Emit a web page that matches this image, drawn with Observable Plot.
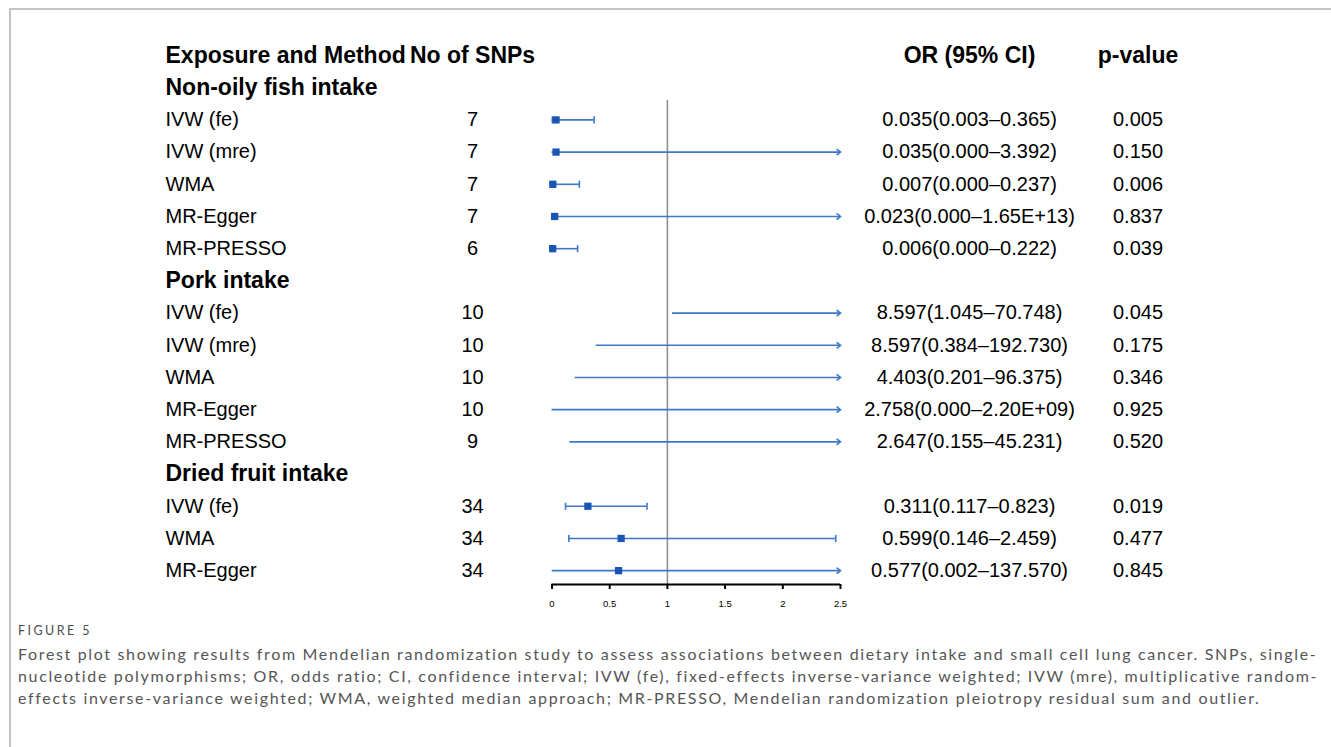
<!DOCTYPE html>
<html>
<head>
<meta charset="utf-8">
<script src="https://cdn.jsdelivr.net/npm/d3@7"></script>
<script src="https://cdn.jsdelivr.net/npm/@observablehq/plot@0.6"></script>
<style>
  html, body { margin: 0; padding: 0; background: #fff; width: 1331px; height: 747px; overflow: hidden; }
  #frame { position: absolute; left: 9px; top: 8px; right: 0; bottom: 0; border-top: 2px solid #c4c4c4; border-left: 2px solid #c4c4c4; }
  #chart { position: absolute; left: 0; top: 0; }
  #fig { position: absolute; left: 18px; top: 623px; font-family: Lato, "Open Sans", sans-serif; font-size: 12.5px; color: #4d4d4d; white-space: nowrap; }
  #cap { position: absolute; left: 18px; top: 643px; font-family: Lato, "Open Sans", sans-serif; font-size: 16px; line-height: 22px; color: #555; white-space: nowrap; }
  #cap span { display: inline-block; }
</style>
</head>
<body>
<div id="frame"></div>
<div id="chart"></div>
<div id="fig"><span id="figspan">FIGURE 5</span></div>
<div id="cap"><span>Forest plot showing results from Mendelian randomization study to assess associations between dietary intake and small cell lung cancer. SNPs, single-</span><br><span>nucleotide polymorphisms; OR, odds ratio; CI, confidence interval; IVW (fe), fixed-effects inverse-variance weighted; IVW (mre), multiplicative random-</span><br><span>effects inverse-variance weighted; WMA, weighted median approach; MR-PRESSO, Mendelian randomization pleiotropy residual sum and outlier.</span></div>
<script>
// ---- data ----
const headers = ["Exposure and Method", "No of SNPs", "OR (95% CI)", "p-value"];
const exposures = ["Non-oily fish intake", "Pork intake", "Dried fruit intake"];
const methods = ["IVW (fe)", "IVW (mre)", "WMA", "MR-Egger", "MR-PRESSO",
                 "IVW (fe)", "IVW (mre)", "WMA", "MR-Egger", "MR-PRESSO",
                 "IVW (fe)", "WMA", "MR-Egger"];
const exposureOf = [0, 0, 0, 0, 0, 1, 1, 1, 1, 1, 2, 2, 2];
const nSNPs = [7, 7, 7, 7, 6, 10, 10, 10, 10, 9, 34, 34, 34];
const orEst  = [0.035, 0.035, 0.007, 0.023, 0.006, 8.597, 8.597, 4.403, 2.758, 2.647, 0.311, 0.599, 0.577];
const ciLow  = [0.003, 0.000, 0.000, 0.000, 0.000, 1.045, 0.384, 0.201, 0.000, 0.155, 0.117, 0.146, 0.002];
const ciHigh = [0.365, 3.392, 0.237, 1.65e13, 0.222, 70.748, 192.730, 96.375, 2.20e9, 45.231, 0.823, 2.459, 137.570];
const orLabels = ["0.035(0.003\u20130.365)", "0.035(0.000\u20133.392)", "0.007(0.000\u20130.237)", "0.023(0.000\u20131.65E+13)", "0.006(0.000\u20130.222)",
                  "8.597(1.045\u201370.748)", "8.597(0.384\u2013192.730)", "4.403(0.201\u201396.375)", "2.758(0.000\u20132.20E+09)", "2.647(0.155\u201345.231)",
                  "0.311(0.117\u20130.823)", "0.599(0.146\u20132.459)", "0.577(0.002\u2013137.570)"];
const pValues = ["0.005", "0.150", "0.006", "0.837", "0.039",
                 "0.045", "0.175", "0.346", "0.925", "0.520",
                 "0.019", "0.477", "0.845"];
const xTicks = [0, 0.5, 1, 1.5, 2, 2.5];
const nullValue = 1;

// ---- table rows ----
const xMax = xTicks[xTicks.length - 1];
const headings = [];
const rows = [];
let idx = 1, prev = -1;
methods.forEach((m, i) => {
  const g = exposureOf[i];
  if (g !== prev) { headings.push({idx, label: exposures[g]}); idx++; prev = g; }
  rows.push({idx, method: m, n: nSNPs[i], est: orEst[i], lo: ciLow[i], hi: ciHigh[i], or: orLabels[i], p: pValues[i]});
  idx++;
});
const yMax = idx - 1 + 0.43;

const sqColor = "#1b55b3";
const lnColor = "#3c78c8";
const font = "'Liberation Sans', Arial, sans-serif";

const capSymbol = { draw(ctx, size) { const h = Math.sqrt(size) / 2; ctx.moveTo(0, -h); ctx.lineTo(0, h); } };
const arrowSymbol = { draw(ctx, size) { const h = Math.sqrt(size) / 2; ctx.moveTo(-h * 1.3, -h); ctx.lineTo(0, 0); ctx.lineTo(-h * 1.3, h); } };

const caps = rows.filter(d => d.hi <= xMax).flatMap(d => [{idx: d.idx, x: d.lo}, {idx: d.idx, x: d.hi}]);
const arrows = rows.filter(d => d.hi > xMax);
const squares = rows.filter(d => d.est <= xMax);

const colLabel = -386.5, colN = -79.5, colOR = 129, colP = 297.5;
const hdr = [{idx: 0}];

const chart = Plot.plot({
  width: 1331,
  height: 612,
  marginLeft: 551.5,
  marginRight: 491,
  marginTop: 55,
  marginBottom: 28,
  style: {fontFamily: font, background: "transparent", overflow: "visible"},
  x: {domain: [0, xMax]},
  y: {domain: [0, yMax], reverse: true, axis: null},
  marks: [
    Plot.ruleX([nullValue], {y1: rows[0].idx - 0.6, y2: yMax, stroke: "#8a8a8a", strokeWidth: 1.5}),
    Plot.ruleY(rows, {y: "idx", x1: "lo", x2: d => Math.min(d.hi, xMax), stroke: lnColor, strokeWidth: 1.6}),
    Plot.dot(caps, {x: "x", y: "idx", symbol: capSymbol, r: 4, stroke: lnColor, strokeWidth: 1.6, fill: "none"}),
    Plot.dot(arrows, {x: () => xMax, y: "idx", symbol: arrowSymbol, r: 3.4, stroke: lnColor, strokeWidth: 1.6, fill: "none"}),
    Plot.dot(squares, {x: "est", y: "idx", symbol: "square", r: 4.1, fill: sqColor, stroke: "none"}),
    // header row
    Plot.text(hdr, {y: "idx", text: () => headers[0], frameAnchor: "left", dx: colLabel, textAnchor: "start", fontSize: 23, fontWeight: "bold", fill: "black"}),
    Plot.text(hdr, {y: "idx", text: () => headers[1], frameAnchor: "left", dx: colN, textAnchor: "middle", fontSize: 23, fontWeight: "bold", fill: "black"}),
    Plot.text(hdr, {y: "idx", text: () => headers[2], frameAnchor: "right", dx: colOR, textAnchor: "middle", fontSize: 23, fontWeight: "bold", fill: "black"}),
    Plot.text(hdr, {y: "idx", text: () => headers[3], frameAnchor: "right", dx: colP, textAnchor: "middle", fontSize: 23, fontWeight: "bold", fill: "black"}),
    // exposure headings
    Plot.text(headings, {y: "idx", text: "label", frameAnchor: "left", dx: colLabel, textAnchor: "start", fontSize: 23, fontWeight: "bold", fill: "black"}),
    // rows
    Plot.text(rows, {y: "idx", text: "method", frameAnchor: "left", dx: colLabel, textAnchor: "start", fontSize: 20, fill: "black"}),
    Plot.text(rows, {y: "idx", text: d => String(d.n), frameAnchor: "left", dx: colN, textAnchor: "middle", fontSize: 20, fill: "black"}),
    Plot.text(rows, {y: "idx", text: "or", frameAnchor: "right", dx: colOR, textAnchor: "middle", fontSize: 20, fill: "black"}),
    Plot.text(rows, {y: "idx", text: "p", frameAnchor: "right", dx: colP, textAnchor: "middle", fontSize: 20, fill: "black"}),
    // axis
    Plot.ruleY([yMax], {stroke: "black", strokeWidth: 2}),
    Plot.axisX(xTicks, {anchor: "bottom", tickSize: 5, tickPadding: 11, fontSize: 9.5, stroke: "black", strokeWidth: 2, label: null, tickFormat: d => String(d)})
  ]
});
document.getElementById("chart").appendChild(chart);

// stretch caption lines to the reference's measure
const capWidth = 1300;
document.querySelectorAll("#cap span").forEach(sp => {
  const w = sp.getBoundingClientRect().width;
  const n = sp.textContent.length;
  sp.style.letterSpacing = ((capWidth - w) / n) + "px";
});
const fs = document.getElementById("figspan");
fs.style.letterSpacing = ((74 - fs.getBoundingClientRect().width) / fs.textContent.length) + "px";
// last line is shorter in the reference; undo its stretch ratio consistently
const spans = document.querySelectorAll("#cap span");
spans[2].style.letterSpacing = spans[0].style.letterSpacing;
</script>
</body>
</html>
